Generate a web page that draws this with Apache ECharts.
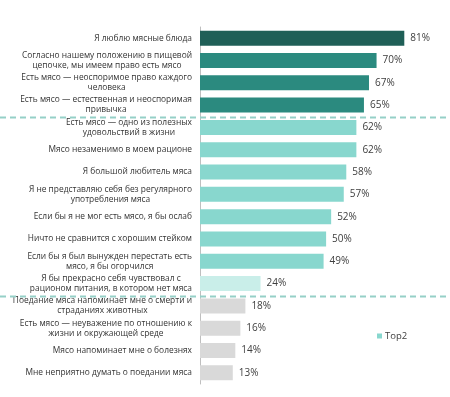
<!DOCTYPE html>
<html>
<head>
<meta charset="utf-8">
<script src="https://cdn.jsdelivr.net/npm/echarts@6/dist/echarts.min.js"></script>
<style>
  html, body { margin: 0; padding: 0; background: #fff; }
  #chart { width: 450px; height: 397px; }
</style>
</head>
<body>
<div id="chart"></div>
<script>
// подписи утверждений (переносы строк как на картинке)
const categories = [
  'Я люблю мясные блюда',
  'Согласно нашему положению в пищевой\nцепочке, мы имеем право есть мясо',
  'Есть мясо — неоспоримое право каждого\nчеловека',
  'Есть мясо — естественная и неоспоримая\nпривычка',
  'Есть мясо — одно из полезных\nудовольствий в жизни',
  'Мясо незаменимо в моем рационе',
  'Я большой любитель мяса',
  'Я не представляю себя без регулярного\nупотребления мяса',
  'Если бы я не мог есть мясо, я бы ослаб',
  'Ничто не сравнится с хорошим стейком',
  'Если бы я был вынужден перестать есть\nмясо, я бы огорчился',
  'Я бы прекрасно себя чувствовал с\nрационом питания, в котором нет мяса',
  'Поедание мяса напоминает мне о смерти и\nстраданиях животных',
  'Есть мясо — неуважение по отношению к\nжизни и окружающей среде',
  'Мясо напоминает мне о болезнях',
  'Мне неприятно думать о поедании мяса'
]
// Top2, %
const top2 = [81, 70, 67, 65, 62, 62, 58, 57, 52, 50, 49, 24, 18, 16, 14, 13]
// группа каждого утверждения
const groups = ['top', 'high', 'high', 'high', 'mid', 'mid', 'mid', 'mid', 'mid', 'mid', 'mid', 'low', 'neg', 'neg', 'neg', 'neg']
// после каких позиций идет пунктирный разделитель
const separatorsAfter = [3, 11]

const groupColors = {
  top: '#1f5f57',
  high: '#2b8a7f',
  mid: '#88d7ce',
  low: '#c9eee9',
  neg: '#d9d9d9'
}
const font = '"Open Sans", "DejaVu Sans", sans-serif'

let mychart = echarts.init(document.getElementById('chart'))

let option = {
  animation: false,
  grid: { left: 200, right: 23, top: 27, bottom: 13, outerBoundsMode: 'none', containLabel: false },
  legend: {
    data: ['Top2'],
    left: 372,
    top: 326,
    itemWidth: 5,
    itemHeight: 5,
    icon: 'rect',
    textStyle: { fontFamily: font, fontSize: 9.5, color: '#404040', padding: [0, 0, 0, -2] }
  },
  xAxis: {
    type: 'value',
    min: 0,
    max: 90,
    show: false
  },
  yAxis: {
    type: 'category',
    inverse: true,
    data: categories,
    axisTick: { show: false },
    axisLine: { show: true, lineStyle: { color: '#bfbfbf', width: 1 } },
    axisLabel: {
      margin: 8,
      interval: 0,
      formatter: function (v) {
        return v.split('\n').map(s => '{c|' + s + '}').join('\n')
      },
      rich: {
        c: { align: 'center', fontFamily: font, fontSize: 8.4, lineHeight: 10, color: '#333' }
      }
    }
  },
  series: [
    {
      name: 'Top2',
      type: 'bar',
      barWidth: 15,
      itemStyle: { color: groupColors.mid },
      label: {
        show: true,
        position: 'right',
        distance: 6,
        formatter: '{c}%',
        fontFamily: font,
        fontSize: 10,
        color: '#404040'
      },
      data: top2.map((v, i) => ({ value: v, itemStyle: { color: groupColors[groups[i]] } }))
    }
  ]
}

mychart.setOption(option)

// пунктирные разделители между группами на всю ширину
let lines = separatorsAfter.map(i => {
  let y1 = mychart.convertToPixel({ yAxisIndex: 0 }, categories[i])
  let y2 = mychart.convertToPixel({ yAxisIndex: 0 }, categories[i + 1])
  let y = Math.round((y1 + y2) / 2) + 1.5
  return {
    type: 'line',
    shape: { x1: 0, y1: y, x2: 450, y2: y },
    style: { stroke: '#95d0c7', lineWidth: 2, lineDash: [6, 4] },
    z: 10
  }
})
mychart.setOption({ graphic: lines })
</script>
</body>
</html>
